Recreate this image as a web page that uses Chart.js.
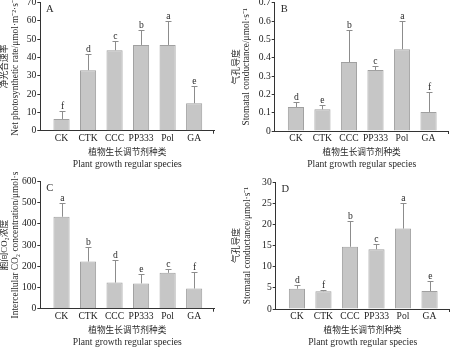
<!DOCTYPE html>
<html>
<head>
<meta charset="utf-8">
<script src="https://cdn.jsdelivr.net/npm/chart.js@4.4.0/dist/chart.umd.min.js"></script>
<style>
    html, body { margin: 0; padding: 0; background: #fff; }
    #fig { position: relative; width: 450px; height: 347px; overflow: hidden; }
    #fig canvas { position: absolute; }
</style>
</head>
<body>
<div id="fig">
    <canvas id="panel-a" width="225" height="172" style="left:0;top:0"></canvas>
    <canvas id="panel-b" width="225" height="172" style="left:225px;top:0"></canvas>
    <canvas id="panel-c" width="225" height="175" style="left:0;top:172px"></canvas>
    <canvas id="panel-d" width="225" height="175" style="left:225px;top:172px"></canvas>
</div>
<script>
// Gas exchange under plant growth regulators — four bar panels with error bars

const species = ['CK', 'CTK', 'CCC', 'PP333', 'Pol', 'GA'];

// A: net photosynthetic rate
const pnMean = [6.4, 33.0, 43.9, 46.8, 46.8, 15.0];
const pnSd = [4.4, 8.8, 5.1, 8.2, 13.2, 9.5];
const pnLetters = ['f', 'd', 'c', 'b', 'a', 'e'];
const pnTicks = [0, 10, 20, 30, 40, 50, 60, 70];

// B: stomatal conductance
const gsMean = [0.131, 0.118, 0.376, 0.333, 0.446, 0.104];
const gsSd = [0.026, 0.022, 0.173, 0.020, 0.154, 0.111];
const gsLetters = ['d', 'e', 'b', 'c', 'a', 'f'];
const gsTicks = [0, 0.1, 0.2, 0.3, 0.4, 0.5, 0.6, 0.7];

// C: intercellular CO2 concentration
const ciMean = [433, 222, 123, 119, 169, 95];
const ciSd = [65, 69, 105, 45, 18, 80];
const ciLetters = ['a', 'b', 'd', 'e', 'c', 'f'];
const ciTicks = [0, 100, 200, 300, 400, 500, 600];

// D: stomatal conductance (second series)
const gs2Mean = [4.8, 4.2, 14.7, 14.1, 19.0, 4.25];
const gs2Sd = [0.8, 0.35, 6.2, 1.2, 6.1, 2.35];
const gs2Letters = ['d', 'f', 'b', 'c', 'a', 'e'];
const gs2Ticks = [0, 5, 10, 15, 20, 25, 30];

const SERIF = "'Liberation Serif', 'Times New Roman', serif";
const CJK = "'Liberation Serif', 'Noto Sans CJK SC', serif";
const X_MIN = -0.8;
const X_MAX = 5.76;

const panels = [
    {
        id: 'panel-a', tag: 'A', mean: pnMean, sd: pnSd, letters: pnLetters, ticks: pnTicks,
        axisX: 40.3, top: 2.4, bottom: 130.7, width: 174,
        titleCn: '净光合速率', titleEn: 'Net photosynthetic rate/μmol·m⁻²·s⁻¹', cnX: 5, enX: 16
    },
    {
        id: 'panel-b', tag: 'B', mean: gsMean, sd: gsSd, letters: gsLetters, ticks: gsTicks,
        axisX: 49.7, top: 2.7, bottom: 131, width: 174,
        titleCn: '气孔导度', titleEn: 'Stomatal conductance/μmol·s⁻¹', cnX: 12, enX: 22
    },
    {
        id: 'panel-c', tag: 'C', mean: ciMean, sd: ciSd, letters: ciLetters, ticks: ciTicks,
        axisX: 40.3, top: 9.3, bottom: 136.7, width: 174,
        titleCn: '胞间CO₂浓度', titleEn: 'Intercellular CO₂ concentration/μmol·s', cnX: 4.5, enX: 15.5
    },
    {
        id: 'panel-d', tag: 'D', mean: gs2Mean, sd: gs2Sd, letters: gs2Letters, ticks: gs2Ticks,
        axisX: 50.7, top: 10, bottom: 137, width: 174,
        titleCn: '气孔导度', titleEn: 'Stomatal conductance/μmol·s⁻¹', cnX: 12, enX: 23
    }
];

function verticalText(ctx, text, x, y) {
    ctx.save();
    ctx.translate(x, y);
    ctx.rotate(-Math.PI / 2);
    ctx.fillText(text, 0, 0);
    ctx.restore();
}

function makeDecor(pn) {
    return {
        id: 'decor',
        afterDatasetsDraw(chart) {
            const { ctx, scales: { y } } = chart;
            const bars = chart.getDatasetMeta(0).data;
            ctx.save();
            ctx.lineWidth = 1;
            ctx.strokeStyle = '#8c8c8c';
            ctx.fillStyle = '#2a2a2a';
            ctx.font = '9.6px ' + SERIF;
            ctx.textAlign = 'center';
            ctx.textBaseline = 'bottom';
            bars.forEach((bar, i) => {
                const cx = Math.round(bar.x) + 0.5;
                const top = Math.round(y.getPixelForValue(pn.mean[i] + pn.sd[i])) + 0.5;
                ctx.beginPath();
                ctx.moveTo(cx, bar.y);
                ctx.lineTo(cx, top);
                ctx.moveTo(cx - 3, top);
                ctx.lineTo(cx + 3, top);
                ctx.stroke();
                ctx.fillText(pn.letters[i], cx, top);
            });
            ctx.restore();
        },
        afterDraw(chart) {
            const { ctx, chartArea: a } = chart;
            const midX = (a.left + a.right) / 2;
            const midY = (a.top + a.bottom) / 2;
            ctx.save();
            ctx.fillStyle = '#2a2a2a';
            ctx.textAlign = 'center';
            ctx.textBaseline = 'middle';

            // y titles, rotated
            ctx.font = '8.8px ' + CJK;
            verticalText(ctx, pn.titleCn, pn.cnX, midY);
            ctx.font = '9.4px ' + SERIF;
            verticalText(ctx, pn.titleEn, pn.enX, midY);

            // x titles
            ctx.font = '8.7px ' + CJK;
            ctx.fillText('植物生长调节剂种类', midX, a.bottom + 22);
            ctx.font = '9.6px ' + SERIF;
            ctx.fillText('Plant growth regular species', midX, a.bottom + 33.4);

            // panel tag
            ctx.font = '10.5px ' + SERIF;
            ctx.fillText(pn.tag, a.left + 9.5, a.top + 7);

            // small tick at the end of the x axis
            ctx.strokeStyle = '#333';
            ctx.lineWidth = 1;
            ctx.beginPath();
            ctx.moveTo(Math.round(a.right) - 0.5, a.bottom);
            ctx.lineTo(Math.round(a.right) - 0.5, a.bottom + 3);
            ctx.stroke();
            ctx.restore();
        }
    };
}

panels.forEach(pn => {
    const canvas = document.getElementById(pn.id);
    const W = canvas.width;
    const H = canvas.height;
    const tickFont = { family: SERIF, size: 9.6 };

    new Chart(canvas, {
        type: 'bar',
        data: {
            datasets: [{
                data: pn.mean.map((v, i) => ({ x: i, y: v })),
                backgroundColor: '#c6c6c6',
                borderColor: '#a0a0a0',
                borderWidth: 1,
                barPercentage: 0.76,
                categoryPercentage: 0.8
            }]
        },
        options: {
            responsive: false,
            animation: false,
            devicePixelRatio: 1,
            layout: {
                padding: { left: pn.axisX - 30, top: pn.top, right: W - pn.axisX - pn.width, bottom: 0 }
            },
            plugins: {
                legend: { display: false },
                tooltip: { enabled: false }
            },
            scales: {
                x: {
                    type: 'linear',
                    offset: false,
                    bounds: 'data',
                    min: X_MIN,
                    max: X_MAX,
                    afterBuildTicks: s => { s.ticks = species.map((_, i) => ({ value: i })); },
                    afterFit: s => {
                        s.height = H - pn.bottom;
                        s.paddingLeft = 0;
                        s.paddingRight = 0;
                    },
                    ticks: {
                        callback: v => species[v],
                        font: tickFont,
                        color: '#222',
                        padding: 2,
                        autoSkip: false,
                        maxRotation: 0,
                        minRotation: 0
                    },
                    grid: { display: false, drawTicks: false, offset: false },
                    border: { color: '#333', width: 1 }
                },
                y: {
                    min: pn.ticks[0],
                    max: pn.ticks[pn.ticks.length - 1],
                    afterBuildTicks: s => { s.ticks = pn.ticks.map(v => ({ value: v })); },
                    afterFit: s => {
                        s.width = 30;
                        s.paddingTop = 0;
                        s.paddingBottom = 0;
                    },
                    ticks: {
                        callback: v => String(v),
                        font: tickFont,
                        color: '#222',
                        padding: 1
                    },
                    grid: { drawOnChartArea: false, tickLength: 3, color: '#333', lineWidth: 1 },
                    border: { color: '#333', width: 1 }
                }
            }
        },
        plugins: [makeDecor(pn)]
    });
});
</script>
</body>
</html>
